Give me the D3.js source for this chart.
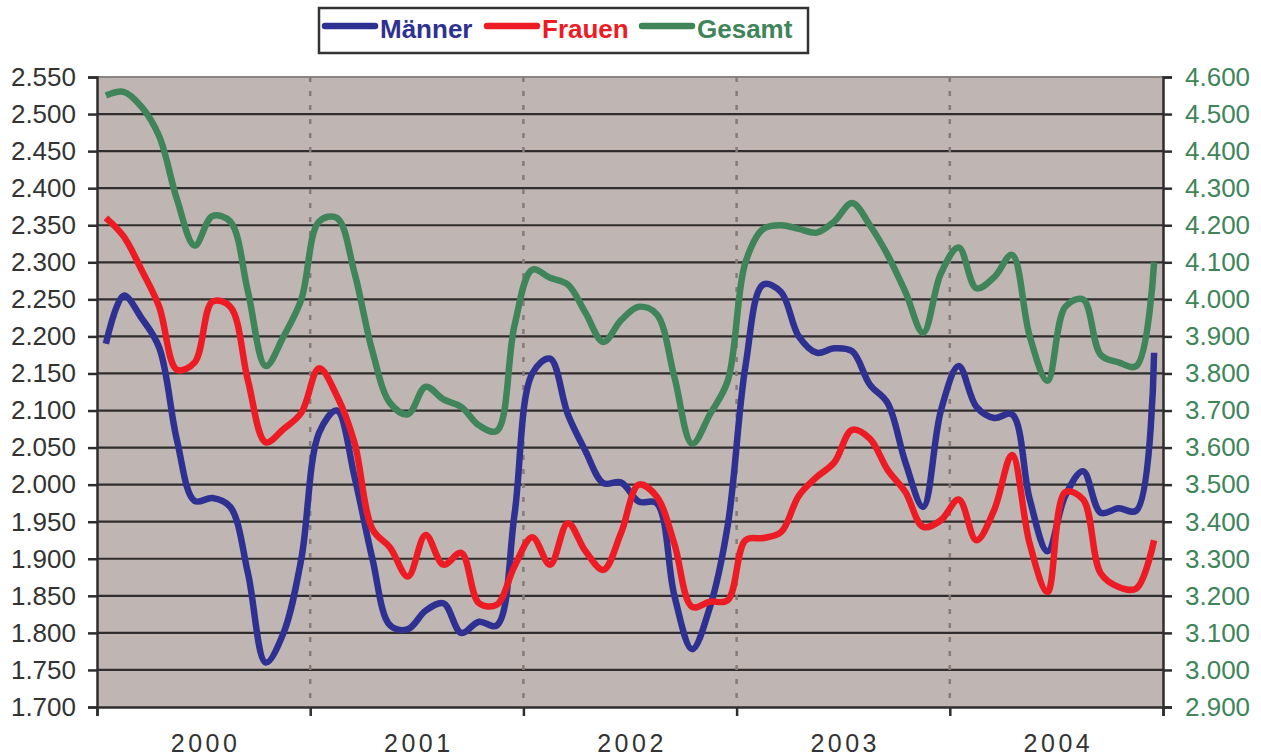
<!doctype html>
<html>
<head>
<meta charset="utf-8">
<title>Männer Frauen Gesamt</title>
<style>
html, body { margin: 0; padding: 0; background: #fff; }
svg { display: block; }
</style>
<script src="https://cdnjs.cloudflare.com/ajax/libs/d3/7.8.5/d3.min.js"></script>
</head>
<body>
<script>
// monthly values 2000 - 2004
var years = [2000, 2001, 2002, 2003, 2004];

var maenner = [2190, 2255, 2225, 2185, 2060, 1978, 1982, 1970, 1880, 1760, 1800, 1900,
               2070, 2100, 2010, 1900, 1810, 1805, 1830, 1840, 1800, 1815, 1810, 1960,
               2150, 2170, 2095, 2045, 2002, 2003, 1977, 1975, 1850, 1778, 1835, 1945,
               2160, 2270, 2260, 2200, 2178, 2184, 2180, 2135, 2110, 2030, 1970, 2100,
               2160, 2105, 2090, 2095, 1980, 1910, 1985, 2018, 1962, 1968, 1965, 2178];

var frauen = [2360, 2335, 2290, 2240, 2155, 2165, 2247, 2240, 2140, 2057, 2075, 2097,
              2157, 2120, 2056, 1940, 1915, 1876, 1932, 1892, 1908, 1840, 1838, 1890,
              1929, 1892, 1948, 1910, 1885, 1935, 2000, 1984, 1920, 1835, 1842, 1844,
              1925, 1928, 1936, 1985, 2010, 2030, 2074, 2062, 2020, 1990, 1943, 1952,
              1980, 1925, 1966, 2040, 1920, 1855, 1990, 1980, 1880, 1862, 1860, 1925];

var gesamt = [4550, 4560, 4520, 4440, 4270, 4145, 4225, 4210, 4020, 3820, 3900, 4000,
              4210, 4220, 4070, 3860, 3720, 3690, 3764, 3730, 3710, 3660, 3645, 3930,
              4080, 4058, 4040, 3963, 3885, 3944, 3980, 3960, 3790, 3610, 3690, 3780,
              4100, 4190, 4200, 4190, 4180, 4210, 4260, 4200, 4120, 4020, 3910, 4070,
              4140, 4030, 4060, 4120, 3900, 3780, 3980, 4000, 3850, 3830, 3820, 4100];

var leftTicks = d3.range(1700, 2551, 50);
var rightTicks = d3.range(2900, 4601, 100);

var series = [
    { name: "Männer", values: maenner, color: "#2e3192", axis: "left" },
    { name: "Frauen", values: frauen, color: "#ed1c24", axis: "left" },
    { name: "Gesamt", values: gesamt, color: "#40845a", axis: "right" }
];

var width = 1261, height = 756;
var x0 = 97, x1 = 1163, y0 = 77, y1 = 707;
var font = "'Liberation Sans', Arial, sans-serif";

var de = d3.formatLocale({ decimal: ",", thousands: ".", grouping: [3], currency: ["", " €"] });
var fmt = de.format(",d");

var svg = d3.select("body").append("svg")
    .attr("width", width)
    .attr("height", height);

var x = d3.scalePoint().domain(d3.range(maenner.length)).range([x0, x1]).padding(0.5);
var xYear = d3.scaleLinear().domain([years[0], years[years.length - 1] + 1]).range([x0, x1]);
var yL = d3.scaleLinear().domain([1700, 2550]).range([y1, y0]);
var yR = d3.scaleLinear().domain([2900, 4600]).range([y1, y0]);

// plot background
svg.append("rect")
    .attr("x", x0).attr("y", y0)
    .attr("width", x1 - x0).attr("height", y1 - y0)
    .style("fill", "#bfb6b3");

svg.append("line")
    .attr("x1", x0).attr("x2", x1).attr("y1", y0).attr("y2", y0)
    .style("stroke", "#8c8482").style("stroke-width", 2);

// horizontal grid
svg.selectAll(".grid").data(leftTicks.slice(1, -1)).enter().append("line")
    .attr("x1", x0).attr("x2", x1)
    .attr("y1", function (d) { return yL(d); })
    .attr("y2", function (d) { return yL(d); })
    .style("stroke", "#2f2d2d")
    .style("stroke-width", 2.2);

// year separators
svg.selectAll(".sep").data(years.slice(1)).enter().append("line")
    .attr("x1", function (d) { return xYear(d); })
    .attr("x2", function (d) { return xYear(d); })
    .attr("y1", y0).attr("y2", y1)
    .style("stroke", "#857b79")
    .style("stroke-width", 2.5)
    .style("stroke-dasharray", "5,9");

// axes
var axL = svg.append("g").attr("transform", "translate(" + x0 + ",0)")
    .call(d3.axisLeft(yL).tickValues(leftTicks).tickFormat(fmt).tickSize(9).tickPadding(12));
var axR = svg.append("g").attr("transform", "translate(" + x1 + ",0)")
    .call(d3.axisRight(yR).tickValues(rightTicks).tickFormat(fmt).tickSize(9).tickPadding(13));
var axB = svg.append("g").attr("transform", "translate(0," + y1 + ")")
    .call(d3.axisBottom(xYear).tickValues(d3.range(years[0], years[years.length - 1] + 2)).tickFormat("").tickSize(9));

[axL, axR, axB].forEach(function (a) {
    a.select(".domain").style("stroke", "#2f2d2d").style("stroke-width", 2.5);
    a.selectAll(".tick line").style("stroke", "#2f2d2d").style("stroke-width", 2.5);
    a.selectAll("text")
        .style("font-family", font)
        .style("font-size", "26px");
});
axL.selectAll("text").style("fill", "#333");
axR.selectAll("text").style("fill", "#40845a");

svg.selectAll(".year").data(years).enter().append("text")
    .attr("x", function (d) { return xYear(d + 0.5) + 2; })
    .attr("y", 752)
    .attr("text-anchor", "middle")
    .style("font-family", font)
    .style("font-size", "25px")
    .style("letter-spacing", "3.5px")
    .style("fill", "#333")
    .text(function (d) { return d; });

// lines
series.forEach(function (s) {
    var yS = s.axis == "left" ? yL : yR;
    var line = d3.line()
        .x(function (d, i) { return x(i); })
        .y(function (d) { return yS(d); })
        .curve(d3.curveCatmullRom.alpha(0.5));
    svg.append("path")
        .datum(s.values)
        .attr("d", line)
        .style("fill", "none")
        .style("stroke", s.color)
        .style("stroke-width", 6.5)
        .style("stroke-linejoin", "round");
});

// legend
var leg = svg.append("g");
leg.append("rect")
    .attr("x", 319).attr("y", 8)
    .attr("width", 489).attr("height", 45)
    .style("fill", "#fff")
    .style("stroke", "#333")
    .style("stroke-width", 2.5);

var legX = [325, 487, 642];
series.forEach(function (s, i) {
    leg.append("line")
        .attr("x1", legX[i]).attr("x2", legX[i] + 50)
        .attr("y1", 26).attr("y2", 26)
        .style("stroke", s.color)
        .style("stroke-width", 6.5)
        .style("stroke-linecap", "round");
    leg.append("text")
        .attr("x", legX[i] + 55)
        .attr("y", 38)
        .style("font-family", font)
        .style("font-size", "26px")
        .style("font-weight", "bold")
        .style("fill", s.color)
        .text(s.name);
});
</script>
</body>
</html>
